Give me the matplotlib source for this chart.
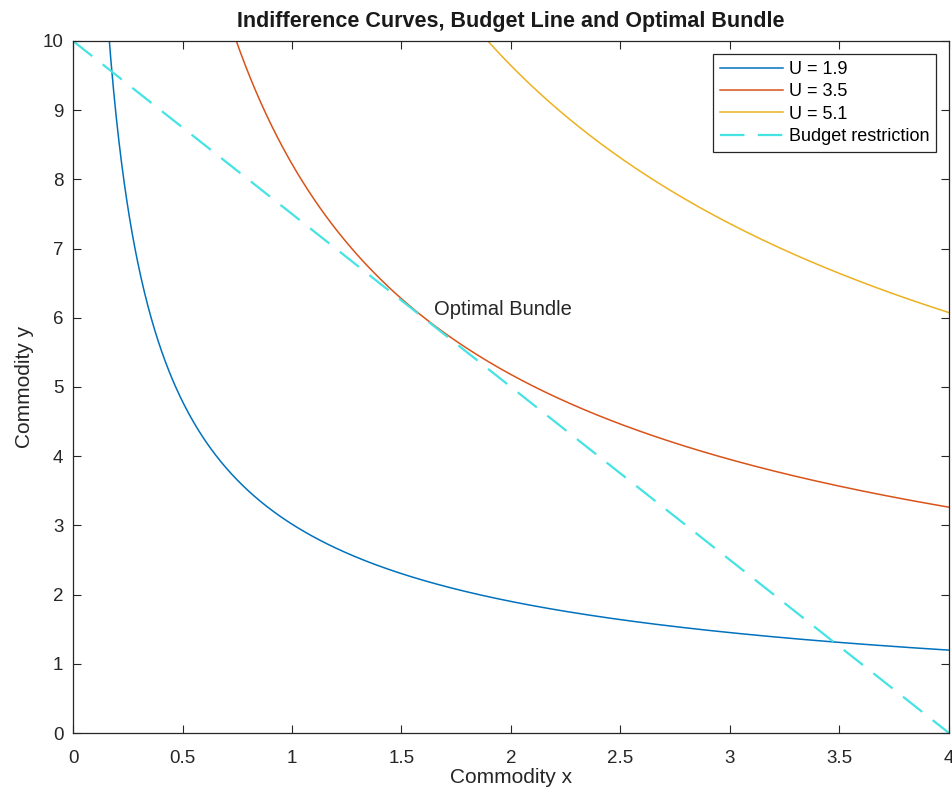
import numpy as np
import matplotlib
matplotlib.use('Agg')
import matplotlib.pyplot as plt
from matplotlib.ticker import FuncFormatter

# Cobb-Douglas preferences U = x^a * y^b
alpha = 0.4
beta = 0.6

# budget: px*x + py*y = income
income = 10
price_x = 2.5
price_y = 1

# utility levels drawn as indifference curves
utility_levels = [1.94, 3.54, 5.14]
curve_colors = ['#0072BD', '#D95319', '#EDB120']

x_ticks = [0, 0.5, 1, 1.5, 2, 2.5, 3, 3.5, 4]
y_ticks = [0, 1, 2, 3, 4, 5, 6, 7, 8, 9, 10]

plt.rcParams['font.family'] = ['Liberation Sans', 'DejaVu Sans']

fig = plt.figure(figsize=(9.52, 7.99), dpi=100)
ax = fig.add_axes([0.0767, 0.0826, 0.9201, 0.8661])

x = np.linspace(0.01, 4, 1000)
for U, c in zip(utility_levels, curve_colors):
    y = (U / x**alpha) ** (1 / beta)
    ax.plot(x, y, color=c, lw=1.1, label='U = %.1f' % U)

# budget line
xb = np.linspace(0, income / price_x, 200)
yb = (income - price_x * xb) / price_y
ax.plot(xb, yb, color='#45E3E3', lw=1.6, linestyle=(0, (11, 6)), label='Budget restriction')

# optimal bundle (tangency point)
x_opt = alpha * income / price_x
y_opt = beta * income / price_y
ax.text(x_opt + 0.05, y_opt + 0.12, 'Optimal Bundle', fontsize=14.5, va='center', ha='left', color='#262626')

ax.set_xlim(0, 4)
ax.set_ylim(0, 10)
ax.set_xticks(x_ticks)
ax.set_yticks(y_ticks)
ax.xaxis.set_major_formatter(FuncFormatter(lambda v, p: '%g' % v))
ax.tick_params(direction='in', length=6, width=0.8, top=True, right=True,
               labelsize=13.5, colors='#262626')
ax.tick_params(axis='x', pad=12)
ax.tick_params(axis='y', pad=7)
for s in ax.spines.values():
    s.set_color('#262626')
    s.set_linewidth(0.9)

ax.set_xlabel('Commodity x', fontsize=15, color='#262626', labelpad=1)
ax.set_ylabel('Commodity y', fontsize=15, color='#262626', labelpad=6)
ax.set_title('Indifference Curves, Budget Line and Optimal Bundle', fontsize=15.5,
             fontweight='bold', color='#1a1a1a', pad=10)

leg = ax.legend(loc='upper right', fontsize=13, handlelength=3.5, labelspacing=0.3,
                borderpad=0.4, handletextpad=0.3, borderaxespad=0.7, fancybox=False,
                framealpha=1, edgecolor='#262626')
leg.get_frame().set_linewidth(0.9)

fig.savefig('out.png', dpi=100)
